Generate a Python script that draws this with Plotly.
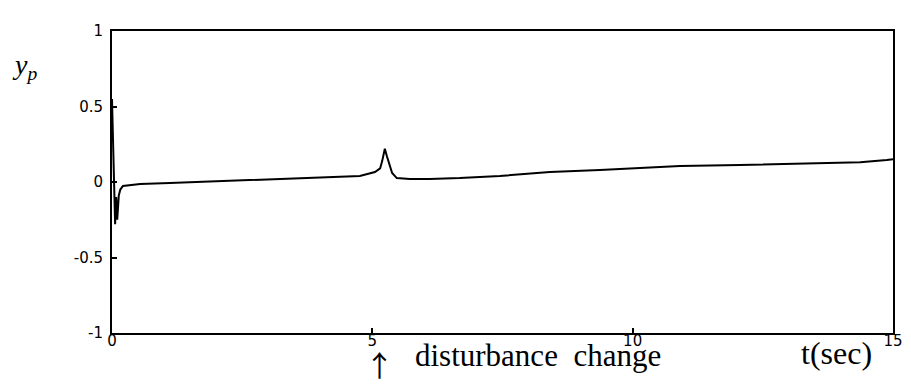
import plotly.graph_objects as go

# time (sec) and plant output y_p
t = [0.0, 0.02, 0.04, 0.06, 0.08, 0.10, 0.13, 0.16, 0.21, 0.54, 1.11, 2.65,
     4.38, 4.76, 5.05, 5.15, 5.19, 5.24, 5.28, 5.32, 5.38, 5.47, 5.72, 6.10,
     6.68, 7.45, 8.41, 9.37, 10.14, 10.91, 12.06, 13.27, 14.37, 14.88, 15.0]
y_p = [0.55, 0.30, -0.05, -0.28, -0.10, -0.25, -0.09, -0.05, -0.026, -0.013,
       -0.007, 0.013, 0.033, 0.04, 0.066, 0.09, 0.14, 0.22, 0.17, 0.12, 0.06,
       0.026, 0.02, 0.02, 0.026, 0.04, 0.066, 0.08, 0.092, 0.106, 0.112,
       0.119, 0.13, 0.145, 0.15]

x_ticks = [0, 5, 10, 15]
x_tick_labels = ["0", "5", "10", "15"]
y_ticks = [-1, -0.5, 0, 0.5, 1]
y_tick_labels = ["-1", "-0.5", "0", "0.5", "1"]

fig = go.Figure()
fig.add_trace(go.Scatter(x=t, y=y_p, mode="lines",
                         line=dict(color="black", width=2), showlegend=False,
                         cliponaxis=False))

tick_font = dict(family="DejaVu Sans", size=15, color="black")
# page body has an 8px margin, so the plot area is offset accordingly
fig.update_layout(
    width=911, height=384,
    margin=dict(l=104, r=26, t=23, b=59, autoexpand=False),
    paper_bgcolor="white", plot_bgcolor="white",
    xaxis=dict(range=[0, 15], tickvals=x_ticks, ticktext=x_tick_labels,
               showgrid=False, zeroline=False, showline=True, mirror=True,
               linecolor="black", linewidth=2, ticks="inside", ticklen=5,
               tickcolor="black", tickwidth=1.5, tickfont=tick_font,
               ticklabelstandoff=-7, automargin=False),
    yaxis=dict(range=[-1, 1], tickvals=y_ticks, ticktext=y_tick_labels,
               showgrid=False, zeroline=False, showline=True, mirror=True,
               linecolor="black", linewidth=2, ticks="inside", ticklen=5,
               tickcolor="black", tickwidth=1.5, tickfont=tick_font,
               ticklabelstandoff=4, automargin=False),
)

serif = "Liberation Serif"
W, H, L, T = 781, 302, 112, 31


def px(x):
    return (x - L) / W


def py(y):
    return (T + H - y) / H


fig.add_annotation(text="<i>y</i><sub><i>p</i></sub>", xref="paper", yref="paper",
                   x=px(24), y=py(66), showarrow=False, xanchor="center",
                   yanchor="middle",
                   font=dict(family=serif, size=28, color="black"))
fig.add_annotation(text="↑", xref="paper", yref="paper",
                   x=px(379), y=py(364), showarrow=False, xanchor="center",
                   yanchor="middle",
                   font=dict(family="Noto Sans CJK JP", size=29, color="black"))
fig.add_annotation(text="disturbance&nbsp; change", xref="paper", yref="paper",
                   x=px(538), y=py(355), showarrow=False, xanchor="center",
                   yanchor="middle",
                   font=dict(family=serif, size=31, color="black"))
fig.add_annotation(text="t(sec)", xref="paper", yref="paper",
                   x=px(836), y=py(353), showarrow=False, xanchor="center",
                   yanchor="middle",
                   font=dict(family=serif, size=32, color="black"))

fig.write_html("out.html")
